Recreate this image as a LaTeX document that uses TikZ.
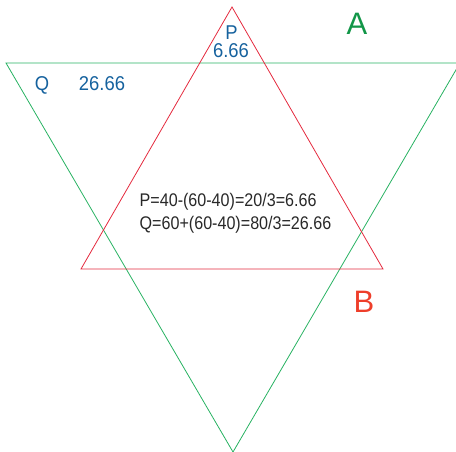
\documentclass[tikz,border=0pt]{standalone}
\usepackage{fontspec}
\setmainfont{Liberation Sans}
\newfontfamily\narrowsans[FakeStretch=0.88]{Liberation Sans}
\newfontfamily\labelsans[FakeStretch=0.92]{Liberation Sans}
\definecolor{trigreen}{RGB}{40,178,98}
\definecolor{txtgreen}{RGB}{18,150,72}
\definecolor{trired}{RGB}{228,42,62}
\definecolor{txtred}{RGB}{238,62,42}
\definecolor{valblue}{RGB}{22,98,158}
\definecolor{formgray}{RGB}{40,40,40}
\usetikzlibrary{positioning}

\begin{document}
\begin{tikzpicture}[x=1pt,y=-1pt,
  sideA/.style={draw=trigreen,line width=0.8pt},
  sideB/.style={draw=trired,line width=0.8pt},
  val/.style={font=\labelsans\fontsize{20}{22}\selectfont,text=valblue,inner sep=0pt,anchor=base},
  tag/.style={font=\fontsize{31}{34}\selectfont,inner sep=0pt,anchor=base},
  formula/.style={font=\narrowsans\fontsize{18.3}{23}\selectfont,text=formgray,inner sep=0pt,anchor=base west}
]
  \useasboundingbox (0,0) rectangle (456,452);
  \clip (0,0) rectangle (456,452);

  % triangle A (green, pointing down)
  \coordinate (a1) at (6,63);
  \coordinate (a2) at (460,63);
  \coordinate (a3) at (233,452);
  \draw[sideA] (a1) -- (a2) -- (a3) -- cycle;

  % triangle B (red, pointing up)
  \coordinate (b1) at (232,7);
  \coordinate (b2) at (383,269);
  \coordinate (b3) at (81,269);
  \draw[sideB] (b1) -- (b2) -- (b3) -- cycle;

  % labels
  \node[tag,text=txtgreen] (tagA) at (357,35) {A};
  \node[tag,text=txtred] (tagB) at (364,312.5) {B};
  \node[val] (pname) at (231.5,39.3) {P};
  \node[val] (pval) at (231,57.3) {6.66};
  \node[val] (qname) at (42,90.5) {Q};
  \node[val] (qval) at (102,90.5) {26.66};

  % calculation
  \node[formula] (eqP) at (139.5,206.7) {P=40-(60-40)=20/3=6.66};
  \node[formula] (eqQ) at (139.5,229.3) {Q=60+(60-40)=80/3=26.66};
\end{tikzpicture}
\end{document}
